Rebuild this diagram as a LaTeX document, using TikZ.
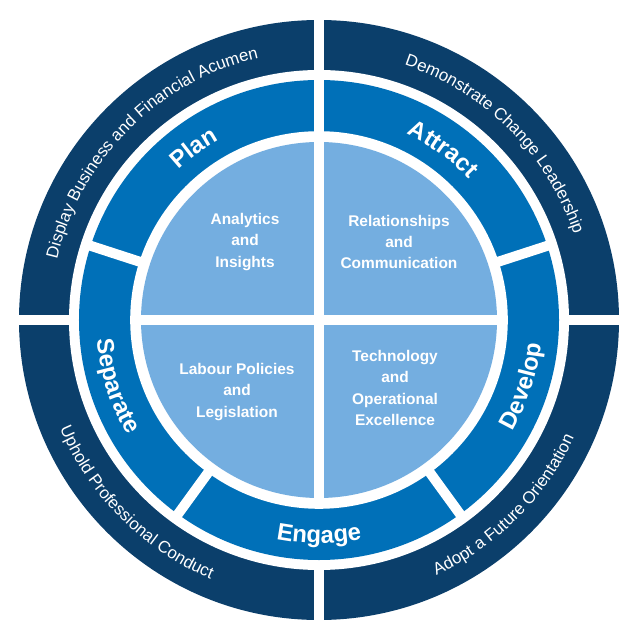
\documentclass[tikz,border=0pt]{standalone}
\usepackage{fontspec}
\setmainfont{Liberation Sans}
\usetikzlibrary{decorations.text}
\definecolor{navy}{HTML}{0B3F6B}
\definecolor{midblue}{HTML}{0070B8}
\definecolor{lightblue}{HTML}{74AEE0}
\tikzset{
  gap/.style={white, line width=0.25cm},
  outertext/.style={decorate, decoration={text along path, text align=center, text color=white, text={|\fontsize{12}{14}\selectfont|#1}}},
  midtext/.style={decorate, decoration={text along path, text align=center, text color=white, text={|\fontsize{17}{19}\selectfont\bfseries|#1}}},
  core/.style={text=white, align=center, font=\fontsize{11}{15}\selectfont\bfseries}
}
\begin{document}
\begin{tikzpicture}
\useasboundingbox (-7.975,-8) rectangle (8.025,8);
% rings
\fill[navy] (0,0) circle (7.5);
\fill[white] (0,0) circle (6.25);
\fill[midblue] (0,0) circle (6.0);
\fill[white] (0,0) circle (4.72);
\fill[lightblue] (0,0) circle (4.45);
% gaps
\foreach \a in {0,90,180,270}
  \draw[gap] (\a:6.1) -- (\a:7.7);
\foreach \a in {90,162,234,306,18}
  \draw[gap] (\a:4.6) -- (\a:6.1);
\draw[gap] (-4.6,0) -- (4.6,0);
\draw[gap] (0,-4.6) -- (0,4.6);
% outer ring
\path[outertext={Display Business and Financial Acumen}] (178:6.72) arc[start angle=178, end angle=92, radius=6.72];
\path[outertext={Demonstrate Change Leadership}] (88:6.72) arc[start angle=88, end angle=2, radius=6.72];
\path[outertext={Uphold Professional Conduct}] (182:7.02) arc[start angle=182, end angle=268, radius=7.02];
\path[outertext={Adopt a Future Orientation}] (272:7.02) arc[start angle=272, end angle=358, radius=7.02];
% middle ring
\path[midtext={Plan}] (160:5.14) arc[start angle=160, end angle=92, radius=5.14];
\path[midtext={Attract}] (88:5.14) arc[start angle=88, end angle=20, radius=5.14];
\path[midtext={Separate}] (164:5.58) arc[start angle=164, end angle=232, radius=5.58];
\path[midtext={Engage}] (236:5.58) arc[start angle=236, end angle=304, radius=5.58];
\path[midtext={Develop}] (308:5.58) arc[start angle=308, end angle=376, radius=5.58];
% core
\node[core] (analytics) at (-1.85,1.95) {Analytics\\and\\Insights};
\node[core] (relations) at (2.0,1.95) {Relationships\\and\\Communication};
\node[core] (labour) at (-2.05,-1.8) {Labour Policies\\and\\Legislation};
\node[core] (technology) at (1.9,-1.7) {Technology\\and\\Operational\\Excellence};
\end{tikzpicture}
\end{document}
